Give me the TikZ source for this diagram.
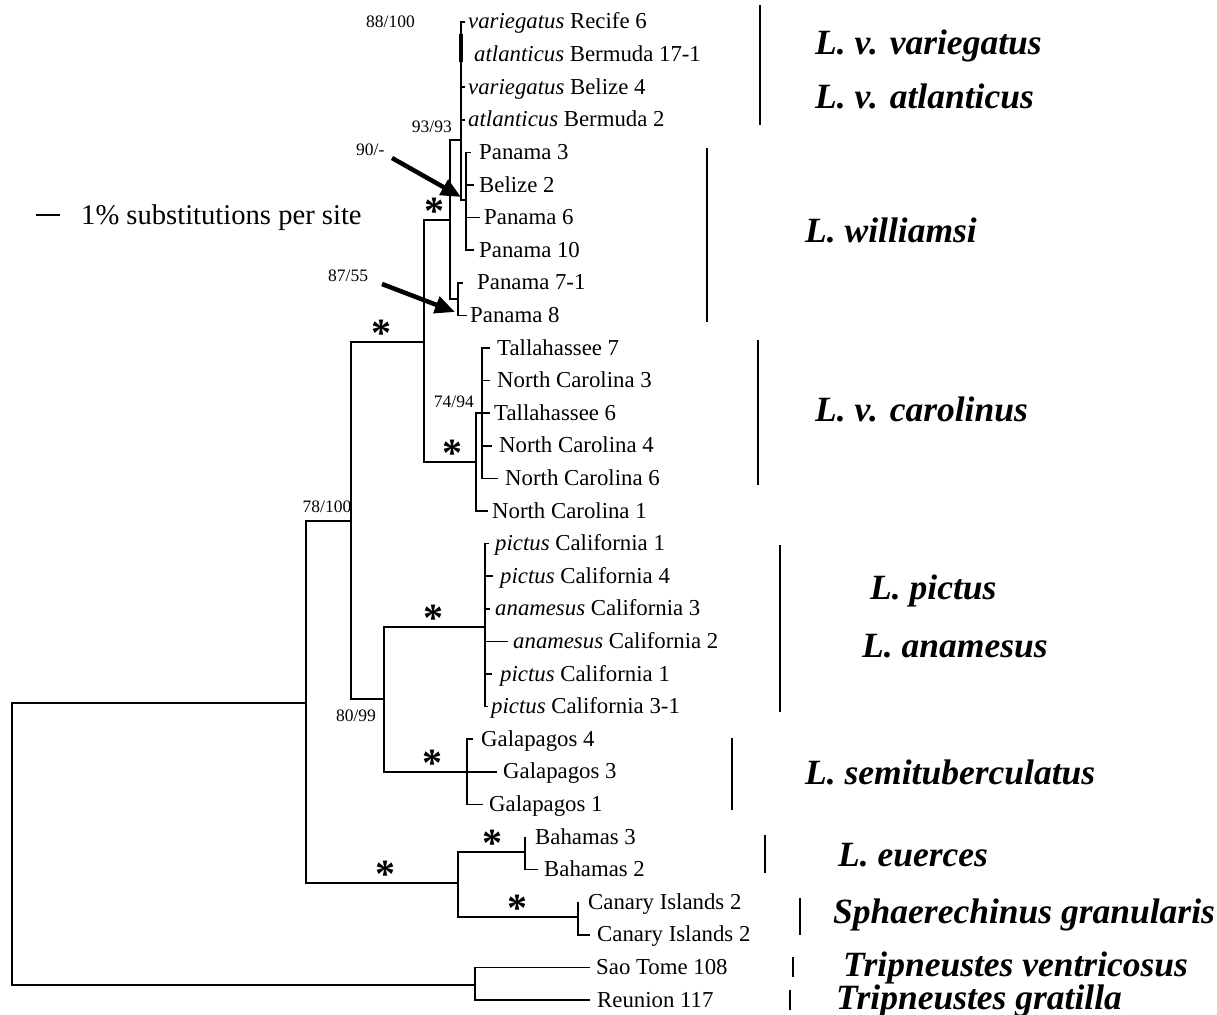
\documentclass[tikz,border=0pt]{standalone}
\usepackage{fontspec}
\setmainfont{Liberation Serif}
\usetikzlibrary{arrows.meta}
\begin{document}
\begin{tikzpicture}[x=1pt,y=-1pt,
  tree/.style={line width=1.5pt},
  bar/.style={line width=1.2pt},
  leaf/.style={anchor=base west,inner sep=0pt,font=\fontsize{22.8}{26}\selectfont},
  supp/.style={inner sep=0pt,font=\fontsize{17.5}{20}\selectfont},
  clade/.style={anchor=base west,inner sep=0pt,font=\fontsize{35.5}{40}\selectfont\bfseries\itshape},
  astk/.style={inner sep=0pt,anchor=base,font=\fontsize{40}{40}\selectfont\bfseries},
  bigarrow/.style={line width=4.5pt,-{Triangle[length=20pt,width=17pt]}}]
\useasboundingbox (0,0) rectangle (1217,1014);
\fill[white] (0,0) rectangle (1217,1014);

% internal nodes
\coordinate (R) at (12,844);
\coordinate (A) at (306,703);
\coordinate (B) at (351,521);
\coordinate (C) at (424,342);
\coordinate (J) at (450,220);
\coordinate (H) at (461,140);
\coordinate (I) at (466,200);
\coordinate (K) at (458,299);
\coordinate (F) at (476,462);
\coordinate (G) at (482,413.2);
\coordinate (D) at (384,699);
\coordinate (P) at (485,627);
\coordinate (Gal) at (467,771.8);
\coordinate (E) at (458,883);
\coordinate (Bah) at (525,852);
\coordinate (Can) at (578,917);
\coordinate (T) at (475,985);

\draw[tree] (R) |- (A);
\draw[tree] (R) |- (T);
\draw[tree] (A) |- (B);
\draw[tree] (A) |- (E);
\draw[tree] (B) |- (C);
\draw[tree] (B) |- (D);
\draw[tree] (C) |- (J);
\draw[tree] (C) |- (F);
\draw[tree] (J) |- (H);
\draw[tree] (J) |- (K);
\draw[tree] (H) |- (I);
\draw[tree] (F) |- (G);
\draw[tree] (D) |- (P);
\draw[tree] (D) |- (Gal);
\draw[tree] (E) |- (Bah);
\draw[tree] (E) |- (Can);

% leaves
\foreach \i/\p/\tx/\lx/\txt in {
 1/H/465/468/{\textit{variegatus} Recife 6},
 2/H/461/474/{\textit{atlanticus} Bermuda 17-1},
 3/H/465/468/{\textit{variegatus} Belize 4},
 4/H/465/468/{\textit{atlanticus} Bermuda 2},
 5/I/471/479/{Panama 3},
 6/I/474/479/{Belize 2},
 7/I/480/484/{Panama 6},
 8/I/474/479/{Panama 10},
 9/K/463/477/{Panama 7-1},
 10/K/467/470/{Panama 8},
 11/G/490/497/{Tallahassee 7},
 12/G/490/497/{North Carolina 3},
 13/G/490/494/{Tallahassee 6},
 14/G/492/499/{North Carolina 4},
 15/G/498/505/{North Carolina 6},
 16/F/488/492/{North Carolina 1},
 17/P/489/495/{\textit{pictus} California 1},
 18/P/493/500/{\textit{pictus} California 4},
 19/P/490/495/{\textit{anamesus} California 3},
 20/P/508/513/{\textit{anamesus} California 2},
 21/P/492/500/{\textit{pictus} California 1},
 22/P/488/491/{\textit{pictus} California 3-1},
 23/Gal/473/481/{Galapagos 4},
 24/Gal/497/503/{Galapagos 3},
 25/Gal/483/489/{Galapagos 1},
 26/Bah/525/535/{Bahamas 3},
 27/Bah/538/544/{Bahamas 2},
 28/Can/578/588/{Canary Islands 2},
 29/Can/590/597/{Canary Islands 2},
 30/T/590/596/{Sao Tome 108},
 31/T/590/597/{Reunion 117}}{
  \coordinate (t\i) at (\tx,{22+(\i-1)*32.6});
  \node[leaf] (l\i) at (\lx,{29+(\i-1)*32.6}) {\txt};
  \draw[tree] (\p) |- (t\i);
}
% thick zero-length segment of the 88/100 pair
\draw[line width=3.5pt] (461,34) -- (461,62);

% support values
\node[supp,anchor=east] (s88) at (415,22) {88/100};
\node[supp,anchor=east] (s93) at (452,127) {93/93};
\node[supp,anchor=west] (s90) at (356,150) {90/-};
\node[supp,anchor=west] (s87) at (328,276) {87/55};
\node[supp,anchor=east] (s74) at (474,402) {74/94};
\node[supp] (s78) at (327,507) {78/100};
\node[supp] (s80) at (356,716) {80/99};

% arrows
\coordinate (a90s) at (392,158);
\coordinate (a90e) at (461,197);
\coordinate (a87s) at (382,284);
\coordinate (a87e) at (455,312);
\draw[bigarrow] (a90s) -- (a90e);
\draw[bigarrow] (a87s) -- (a87e);

% asterisks
\node[astk] (k1) at (381,346.5) {*};
\node[astk] (k2) at (434,224.5) {*};
\node[astk] (k3) at (452,466.5) {*};
\node[astk] (k4) at (433,631.5) {*};
\node[astk] (k5) at (432,776.5) {*};
\node[astk] (k6) at (385,887.5) {*};
\node[astk] (k7) at (492,856.5) {*};
\node[astk] (k8) at (517,921.5) {*};

% scale bar
\coordinate (sb1) at (36,215);
\coordinate (sb2) at (60,215);
\draw[line width=1.3pt] (sb1) -- (sb2);
\node[anchor=base west,inner sep=0pt,font=\fontsize{28.6}{32}\selectfont] (sbt) at (81,224) {1\% substitutions per site};

% clade bars
\draw[bar] (760,5) -- (760,125);
\draw[bar] (707,148) -- (707,322);
\draw[bar] (758,340) -- (758,485);
\draw[bar] (780,545) -- (780,712);
\draw[bar] (732,738) -- (732,810);
\draw[bar] (765,835) -- (765,873);
\draw[bar] (800,898) -- (800,935);
\draw[bar] (793,957) -- (793,977);
\draw[bar] (790,990) -- (790,1010);

% clade names
\node[clade] (c1) at (815,55) {L. v. variegatus};
\node[clade] (c2) at (815,109) {L. v. atlanticus};
\node[clade] (c3) at (805,242) {L. williamsi};
\node[clade] (c4) at (815,421) {L. v. carolinus};
\node[clade] (c5) at (870,599) {L. pictus};
\node[clade] (c6) at (862,657) {L. anamesus};
\node[clade] (c7) at (805,784) {L. semituberculatus};
\node[clade] (c8) at (838,866) {L. euerces};
\node[clade] (c9) at (833,923) {Sphaerechinus granularis};
\node[clade] (c10) at (843,976) {Tripneustes ventricosus};
\node[clade] (c11) at (836,1009) {Tripneustes gratilla};
\end{tikzpicture}
\end{document}
